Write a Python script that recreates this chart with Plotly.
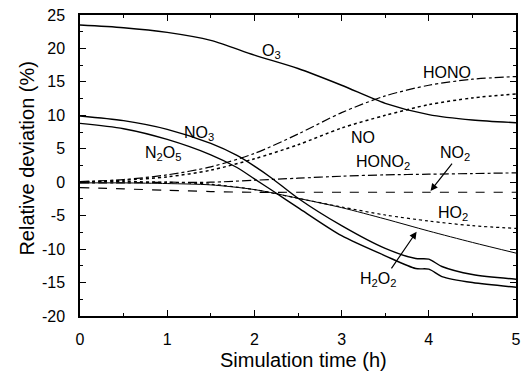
import plotly.graph_objects as go

# time grid (h)
t = [0, 0.5, 1, 1.5, 2, 2.5, 3, 3.5, 4, 4.5, 5]
O3 = [23.5, 23.1, 22.4, 21.2, 19.0, 17.0, 14.5, 11.8, 10.1, 9.3, 8.9]
HONO = [0.1, 0.4, 1.1, 2.3, 4.3, 7.2, 10.4, 12.9, 14.5, 15.4, 15.8]
NO = [0.0, 0.3, 0.8, 1.8, 3.5, 5.6, 8.1, 10.0, 11.6, 12.6, 13.2]
HONO2 = [-0.1, -0.1, 0.0, 0.0, 0.3, 0.6, 0.9, 1.1, 1.2, 1.3, 1.4]
NO2 = [-0.8, -1.0, -1.2, -1.4, -1.5, -1.5, -1.5, -1.5, -1.5, -1.5, -1.5]
HO2 = [0.1, 0.1, 0.0, -0.3, -1.1, -2.4, -3.7, -4.9, -5.8, -6.5, -6.9]
H2O2 = [-0.1, -0.1, -0.2, -0.4, -1.1, -2.4, -3.8, -5.5, -7.3, -9.0, -10.6]

t_n = [0, 0.5, 1, 1.5, 1.8, 2, 2.2, 2.5, 3, 3.5, 3.85, 4.0, 4.15, 4.5, 5]
NO3 = [9.9, 9.2, 7.9, 5.8, 4.0, 2.4, 0.6, -2.4, -6.5, -9.9, -11.4, -11.5, -12.6, -13.8, -14.5]
N2O5 = [8.8, 8.0, 6.4, 4.1, 2.2, 0.5, -1.2, -3.8, -8.0, -11.0, -12.9, -13.0, -14.1, -15.0, -15.7]

x_ticks = [0, 1, 2, 3, 4, 5]
y_ticks = [-20, -15, -10, -5, 0, 5, 10, 15, 20, 25]

FONT = "Arial, Liberation Sans, sans-serif"

fig = go.Figure()

def add(x, y, dash, width):
    fig.add_trace(go.Scatter(x=x, y=y, mode="lines",
                             line=dict(color="black", dash=dash, width=width, shape="spline", smoothing=0.8),
                             showlegend=False, hoverinfo="skip"))

add(t, O3, "solid", 1.4)
add(t, HONO, "dashdot", 1.2)
add(t, NO, "dot", 1.5)
add(t, HONO2, "dashdot", 1.2)
add(t, NO2, "dash", 1.2)
add(t, HO2, "dot", 1.2)
add(t, H2O2, "solid", 1.0)
add(t_n, NO3, "solid", 1.4)
add(t_n, N2O5, "solid", 1.4)

labels = [
    ("O<sub>3</sub>", 2.20, 19.6),
    ("HONO", 4.21, 16.4),
    ("NO", 3.25, 6.7),
    ("HONO<sub>2</sub>", 3.47, 2.9),
    ("NO<sub>2</sub>", 4.30, 4.3),
    ("NO<sub>3</sub>", 1.36, 7.3),
    ("N<sub>2</sub>O<sub>5</sub>", 0.95, 4.3),
    ("HO<sub>2</sub>", 4.28, -4.7),
    ("H<sub>2</sub>O<sub>2</sub>", 3.42, -14.5),
]
for txt, x, y in labels:
    fig.add_annotation(x=x, y=y, text=txt, showarrow=False, font=dict(family=FONT, size=16, color="black"))

arrows = [
    (4.02, -1.3, 4.28, 3.0),
    (3.86, -7.4, 3.56, -13.1),
]
for x, y, ax, ay in arrows:
    fig.add_annotation(x=x, y=y, ax=ax, ay=ay, xref="x", yref="y", axref="x", ayref="y", text="",
                       showarrow=True, arrowhead=2, arrowsize=1.2, arrowwidth=1.2, arrowcolor="black")

# axis titles
fig.add_annotation(x=0.513, y=0, xref="paper", yref="paper", yanchor="middle", yshift=-44,
                   text="Simulation time (h)", showarrow=False, font=dict(family=FONT, size=20, color="black"))
fig.add_annotation(x=0, y=0.523, xref="paper", yref="paper", xanchor="center", xshift=-53, textangle=-90,
                   text="Relative deviation (%)", showarrow=False, font=dict(family=FONT, size=20, color="black"))

axis_common = dict(showline=True, linecolor="black", linewidth=1.5, mirror="ticks", ticks="inside",
                   tickcolor="black", tickwidth=1.2, ticklen=6, showgrid=False, zeroline=False, automargin=False,
                   ticklabeloverflow="allow", tickfont=dict(family=FONT, size=16, color="black"))

fig.update_xaxes(range=[0, 5], tickvals=x_ticks, ticktext=[str(v) for v in x_ticks],
                 minor=dict(ticks="inside", ticklen=3, dtick=0.5, tickcolor="black", tickwidth=1.2),
                 ticklabelstandoff=8, **axis_common)
fig.update_yaxes(range=[-20, 25], tickvals=y_ticks, ticktext=[str(v) for v in y_ticks],
                 minor=dict(ticks="inside", ticklen=3, dtick=2.5, tickcolor="black", tickwidth=1.2),
                 ticklabelstandoff=10, **axis_common)

fig.update_layout(width=522, height=374, margin=dict(l=80, r=6, t=15, b=58),
                  paper_bgcolor="white", plot_bgcolor="white", font=dict(family=FONT, color="black"))

# remove the default page margin so the figure fills the 522x374 window exactly
fig.write_html("out.html", config={"displayModeBar": False},
               post_script="document.body.style.margin='0';document.body.style.overflow='hidden';")
